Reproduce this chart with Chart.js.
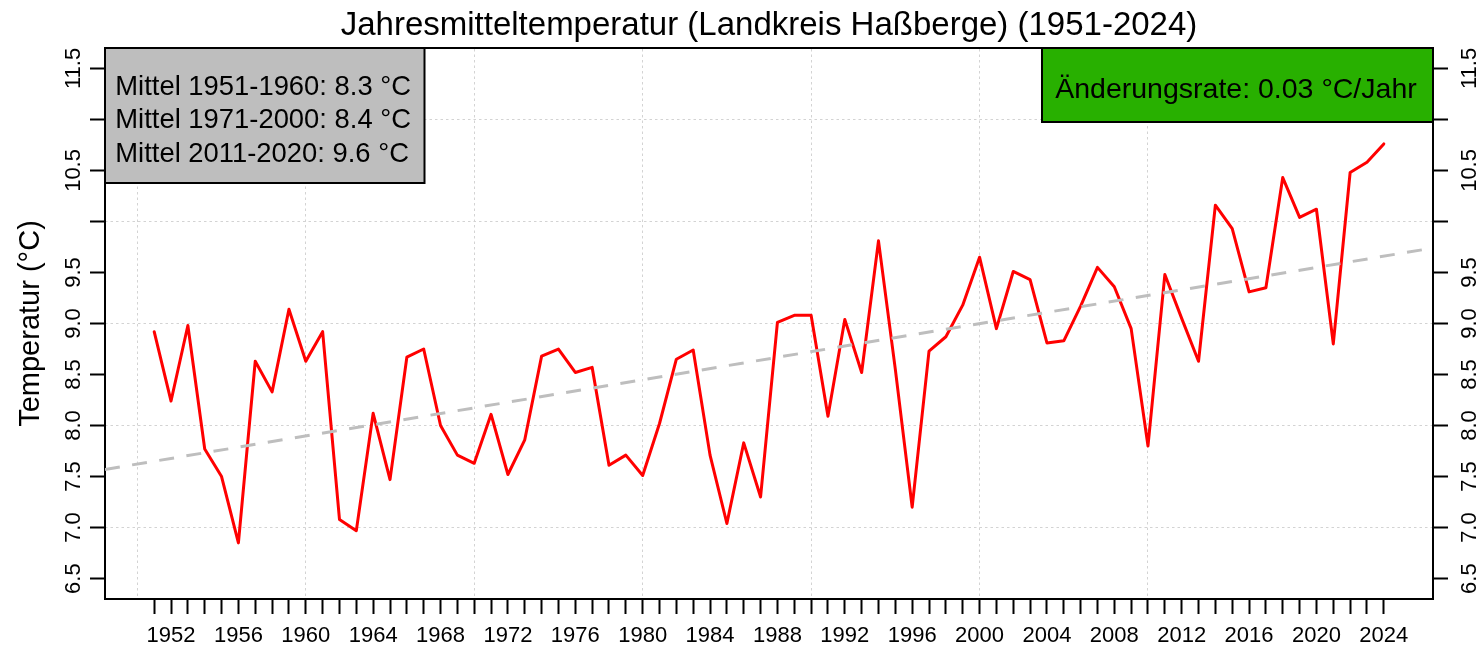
<!DOCTYPE html>
<html>
<head>
<meta charset="utf-8">
<script src="https://cdn.jsdelivr.net/npm/chart.js@4.4.1/dist/chart.umd.min.js"></script>
<style>
html,body{margin:0;padding:0;background:#fff;}
canvas{display:block;}
</style>
</head>
<body>
<canvas id="c" width="1483" height="648"></canvas>
<script>
// ---------- data ----------
const years = [1951,1952,1953,1954,1955,1956,1957,1958,1959,1960,
  1961,1962,1963,1964,1965,1966,1967,1968,1969,1970,
  1971,1972,1973,1974,1975,1976,1977,1978,1979,1980,
  1981,1982,1983,1984,1985,1986,1987,1988,1989,1990,
  1991,1992,1993,1994,1995,1996,1997,1998,1999,2000,
  2001,2002,2003,2004,2005,2006,2007,2008,2009,2010,
  2011,2012,2013,2014,2015,2016,2017,2018,2019,2020,
  2021,2022,2023,2024];
const temps = [8.92,8.24,8.98,7.77,7.50,6.85,8.63,8.33,9.14,8.63,
  8.92,7.08,6.97,8.12,7.47,8.67,8.75,8.00,7.71,7.63,
  8.11,7.52,7.86,8.68,8.75,8.52,8.57,7.61,7.71,7.51,
  8.02,8.65,8.74,7.71,7.04,7.83,7.30,9.01,9.08,9.08,
  8.09,9.04,8.52,9.81,8.55,7.20,8.73,8.87,9.18,9.65,
  8.95,9.51,9.43,8.81,8.83,9.17,9.55,9.36,8.95,7.80,
  9.48,9.05,8.63,10.16,9.93,9.31,9.35,10.43,10.04,10.12,
  8.80,10.48,10.58,10.76];
const trendYears = [1948.08, 2026.92];
const trendValues = [7.57, 9.74];
const yTickValues = [6.5,7.0,7.5,8.0,8.5,9.0,9.5,10.0,10.5,11.0,11.5];
const yTickLabels = ['6.5','7.0','7.5','8.0','8.5','9.0','9.5','','10.5','','11.5'];
const yGridValues = [7,8,9,10,11];
const xGridYears = [1950,1960,1970,1980,1990,2000,2010];
const xMin = 1948.08, xMax = 2026.92, yMin = 6.3, yMax = 11.7;
const titleText = 'Jahresmitteltemperatur (Landkreis Haßberge) (1951-2024)';
const yAxisTitle = 'Temperatur (°C)';
const meanLabels = ['Mittel 1951-1960: 8.3 °C','Mittel 1971-2000: 8.4 °C','Mittel 2011-2020: 9.6 °C'];
const rateLabel = 'Änderungsrate: 0.03 °C/Jahr';

// ---------- styling ----------
const FAMILY = "'Liberation Sans', Arial, sans-serif";
const TICK_SIZE = 22;
const canvas = document.getElementById('c');
const mctx = canvas.getContext('2d');
mctx.font = TICK_SIZE + 'px ' + FAMILY;
const widest = mctx.measureText('11.5').width;

const boxPlugin = {
  id: 'infoBoxes',
  afterDraw(chart) {
    const ctx = chart.ctx;
    const a = chart.chartArea;
    ctx.save();
    // grey box (means)
    ctx.fillStyle = '#BEBEBE';
    ctx.strokeStyle = '#000';
    ctx.lineWidth = 2;
    ctx.fillRect(a.left, a.top, 319.5, 135);
    ctx.strokeRect(a.left, a.top, 319.5, 135);
    ctx.fillStyle = '#000';
    ctx.font = '27.4px ' + FAMILY;
    ctx.textBaseline = 'alphabetic';
    ctx.textAlign = 'left';
    meanLabels.forEach((t, i) => ctx.fillText(t, a.left + 10.3, a.top + 46.5 + i * 33.5));
    // green box (rate)
    const gw = 391, gh = 74;
    ctx.fillStyle = '#28B000';
    ctx.fillRect(a.right - gw, a.top, gw, gh);
    ctx.strokeRect(a.right - gw, a.top, gw, gh);
    ctx.fillStyle = '#000';
    ctx.font = '28.5px ' + FAMILY;
    ctx.fillText(rateLabel, a.right - gw + 13.2, a.top + 50.3);
    ctx.restore();
  }
};

const tickFont = { family: FAMILY, size: TICK_SIZE };

new Chart(canvas, {
  type: 'line',
  data: {
    datasets: [
      {
        label: 'Trend',
        data: trendYears.map((x, i) => ({ x: x, y: trendValues[i] })),
        borderColor: '#BEBEBE',
        borderWidth: 3,
        borderDash: [15, 12.5],
        pointRadius: 0,
        tension: 0,
        xAxisID: 'x', yAxisID: 'y'
      },
      {
        label: 'Jahresmittel',
        data: years.map((x, i) => ({ x: x, y: temps[i] })),
        borderColor: '#FF0000',
        borderWidth: 3,
        borderJoinStyle: 'round',
        borderCapStyle: 'round',
        pointRadius: 0,
        tension: 0,
        xAxisID: 'x', yAxisID: 'y'
      }
    ]
  },
  options: {
    responsive: false,
    devicePixelRatio: 1,
    animation: false,
    layout: { padding: 0 },
    plugins: {
      legend: { display: false },
      tooltip: { enabled: false },
      title: {
        display: true,
        text: titleText,
        fullSize: false,
        color: '#000',
        font: { family: FAMILY, size: 33, weight: 'normal', lineHeight: 1.2 },
        padding: { top: 6, bottom: 2.4 }
      }
    },
    scales: {
      x: {
        type: 'linear', position: 'bottom', min: xMin, max: xMax,
        afterBuildTicks: s => { s.ticks = years.map(v => ({ value: v })); },
        afterFit: s => { s.height = 49; },
        ticks: {
          autoSkip: false, maxRotation: 0, minRotation: 0, padding: 8.8,
          color: '#000', font: tickFont,
          callback: v => (v % 4 === 0 ? String(v) : '')
        },
        grid: { display: true, drawOnChartArea: false, drawTicks: true, tickLength: 15, tickColor: '#000', tickWidth: 2 },
        border: { display: true, color: '#000', width: 2 }
      },
      xGrid: {
        type: 'linear', position: 'top', min: xMin, max: xMax,
        afterBuildTicks: s => { s.ticks = xGridYears.map(v => ({ value: v })); },
        afterFit: s => { s.height = 0; },
        ticks: { display: false },
        grid: { display: true, drawOnChartArea: true, drawTicks: false, color: '#D3D3D3', lineWidth: 1 },
        border: { display: true, color: '#000', width: 2, dash: [2.5, 3] }
      },
      yGrid: {
        type: 'linear', position: 'left', min: yMin, max: yMax,
        afterBuildTicks: s => { s.ticks = yGridValues.map(v => ({ value: v })); },
        afterFit: s => { s.width = 0; },
        ticks: { display: false },
        grid: { display: true, drawOnChartArea: true, drawTicks: false, color: '#D3D3D3', lineWidth: 1 },
        border: { display: false, dash: [2.5, 3] }
      },
      y: {
        type: 'linear', position: 'left', min: yMin, max: yMax,
        afterBuildTicks: s => { s.ticks = yTickValues.map(v => ({ value: v })); },
        afterFit: s => { s.width = 105; },
        ticks: {
          minRotation: 90, maxRotation: 90, crossAlign: 'center',
          padding: 14.8 - widest / 2,
          color: '#000', font: tickFont,
          callback: (v, i) => yTickLabels[i]
        },
        grid: { display: true, drawOnChartArea: false, drawTicks: true, tickLength: 15, tickColor: '#000', tickWidth: 2 },
        border: { display: true, color: '#000', width: 2 },
        title: {
          display: true, text: yAxisTitle, color: '#000',
          font: { family: FAMILY, size: 29, lineHeight: 1.2 },
          padding: { top: 14, bottom: 0 }
        }
      },
      yRight: {
        type: 'linear', position: 'right', min: yMin, max: yMax,
        afterBuildTicks: s => { s.ticks = yTickValues.map(v => ({ value: v })); },
        afterFit: s => { s.width = 50; },
        ticks: {
          minRotation: 90, maxRotation: 90, crossAlign: 'center',
          padding: 21.3 - widest / 2,
          color: '#000', font: tickFont,
          callback: (v, i) => yTickLabels[i]
        },
        grid: { display: true, drawOnChartArea: false, drawTicks: true, tickLength: 15, tickColor: '#000', tickWidth: 2 },
        border: { display: true, color: '#000', width: 2 }
      }
    }
  },
  plugins: [boxPlugin]
});
</script>
</body>
</html>
